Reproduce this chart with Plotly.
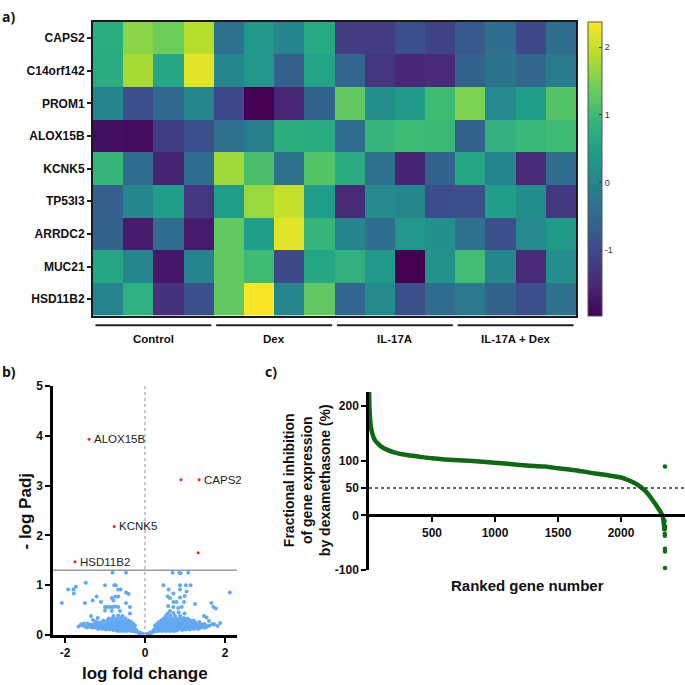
import plotly.graph_objects as go

W = H = 685

# ---------------- Panel a: heatmap data ----------------
genes = ["CAPS2", "C14orf142", "PROM1", "ALOX15B", "KCNK5", "TP53I3", "ARRDC2", "MUC21", "HSD11B2"]
groups = ["Control", "Dex", "IL-17A", "IL-17A + Dex"]
z_caps2 = [0.73, 1.6, 1.4, 1.9, -0.35, 0.33, 0.0, 0.64, -1.2, -1.2, -0.9, -1.1, -0.75, -0.4, -1.0, -0.4]
z_c14orf142 = [0.7, 1.8, 0.6, 2.2, 0.05, 0.3, -0.65, 0.55, -0.55, -1.3, -1.5, -1.45, -0.6, -0.3, -0.55, -0.15]
z_prom1 = [0.0, -0.9, -0.5, 0.05, -1.0, -1.97, -1.5, -0.6, 1.3, 0.2, 0.4, 1.0, 1.5, 0.1, 0.45, 1.2]
z_alox15b = [-1.8, -1.85, -1.15, -0.9, -0.35, -0.1, 0.75, 0.7, -0.45, 0.9, 1.0, 0.97, -0.6, 0.8, 0.95, 1.0]
z_kcnk5 = [0.9, -0.45, -1.55, -0.4, 1.75, 1.1, -0.35, 1.2, 0.7, -0.35, -1.55, -0.6, 0.6, 0.0, -1.45, -0.45]
z_tp53i3 = [-0.65, 0.05, 0.45, -1.3, 0.45, 1.7, 2.0, 0.45, -1.45, 0.1, 0.05, -0.95, -0.9, 0.45, 0.15, -1.25]
z_arrdc2 = [-0.6, -1.65, -0.45, -1.65, 1.3, 0.45, 2.2, 0.9, 0.0, -0.4, 0.3, 0.2, -0.35, -0.9, 0.1, 0.4]
z_muc21 = [0.6, 0.05, -1.7, 0.0, 1.3, 1.0, -1.0, 0.6, 0.8, 0.4, -1.97, 0.25, 1.05, 0.05, -1.45, 0.2]
z_hsd11b2 = [0.0, 0.78, -1.35, -0.9, 1.3, 2.35, 0.03, 1.3, -0.55, 0.12, -0.9, -0.45, -0.2, -0.6, -0.9, -0.35]
samples = list(range(16))
colorbar_ticks = [-1, 0, 1, 2]

# ---------------- Panel b: volcano data ----------------
sig_x = [-1.40, 1.35, 0.90, -0.77, -1.75, 1.33]
sig_y = [3.93, 3.12, 3.12, 2.18, 1.47, 1.65]
sig_labels = ["ALOX15B", "CAPS2", "", "KCNK5", "HSD11B2", ""]
out_x = [-0.81, -0.475, -1.48, -1.92, -1.79, -1.73, -1.78, -2.08, -1.50, -1.00, -0.77, -0.73, -0.67, -0.61,
         -0.475, -0.41, -0.83, -0.74, -0.67, -0.79, -1.21, -1.31, -1.10, -1.00, -0.94, -0.875, -0.81, -0.74,
         -0.67, -0.475, -0.375, -1.00, -0.83, -0.625, -0.375,
         0.69, 0.86, 0.89, 1.08, 0.46, 0.875, 1.02, 1.14, 0.59, 0.875, 1.04, 0.71, 0.99, 2.12, 0.57, 0.625,
         0.875, 0.71, 0.79, 0.975, 1.25, 1.66, 1.71, 1.77, 0.58, 0.71, 0.83, 0.92, 0.625, 0.99, 1.475, 1.69, 1.54]
out_y = [1.25, 1.25, 1.05, 0.91, 0.91, 0.97, 0.83, 0.64, 0.64, 1.00, 1.00, 1.00, 0.91, 0.91,
         0.85, 0.82, 0.74, 0.77, 0.77, 0.69, 0.77, 0.69, 0.66, 0.56, 0.56, 0.56, 0.56, 0.57,
         0.56, 0.64, 0.56, 0.49, 0.48, 0.48, 0.43,
         1.25, 1.25, 1.24, 1.25, 1.00, 1.00, 1.00, 1.00, 0.91, 0.91, 0.87, 0.83, 0.78, 0.85, 0.77, 0.74,
         0.75, 0.66, 0.66, 0.66, 0.62, 0.64, 0.56, 0.53, 0.58, 0.56, 0.54, 0.56, 0.48, 0.43, 0.38, 0.22, 0.35]
cloud_left_x = [-0.03, -0.06, -0.09, -0.12, -0.15, -0.18, -0.21, -0.05, -0.1, -0.14,
                -0.24, -0.29, -0.33, -0.38, -0.43, -0.47, -0.52, -0.56, -0.61, -0.66, -0.71,
                -0.27, -0.36, -0.45, -0.53, -0.62, -0.71, -0.8, -0.89, -0.98, -1.07, -1.17,
                -0.33, -0.42, -0.51, -0.6, -0.69, -0.78, -0.87, -0.96, -1.05, -1.14, -1.24, -1.33,
                -0.28, -0.37, -0.46, -0.55, -0.64, -0.73, -0.82, -0.91, -1.0, -1.09, -1.19, -1.29, -1.39, -1.5,
                -0.25, -0.33, -0.42, -0.51, -0.6, -0.69, -0.78, -0.87, -0.97, -1.06, -1.16, -1.27, -1.42, -1.57,
                -0.29, -0.38, -0.48, -0.57, -0.66, -0.76, -0.86, -0.95, -1.05, -1.15, -1.27, -1.44,
                -0.34, -0.45, -0.55, -0.65, -0.75, -0.85, -0.96, -1.12, -1.22,
                -0.41, -0.52, -0.62, -0.72, -0.83, -0.93, -1.04, -1.3,
                -0.49, -0.6, -0.7, -0.8, -0.9, -1.18,
                -0.56, -0.67, -0.79, -1.35, -1.6, -1.66, -1.53, -0.44, -0.58,
                -0.31, -0.4, -0.49, -0.58, -0.67, -0.75, -0.84, -0.93, -1.02, -1.11, -1.21, -1.31, -1.45,
                -0.35, -0.44, -0.53, -0.62, -0.71, -0.8, -0.91, -1.0, -1.1, -1.2, -1.35, -0.22, -0.26]
cloud_left_y = [0.01, 0.02, 0.03, 0.04, 0.05, 0.06, 0.07, 0.0, 0.01, 0.02,
                0.07, 0.08, 0.08, 0.09, 0.09, 0.08, 0.09, 0.08, 0.09, 0.08, 0.09,
                0.11, 0.11, 0.1, 0.11, 0.1, 0.11, 0.1, 0.11, 0.11, 0.12, 0.12,
                0.13, 0.14, 0.13, 0.14, 0.13, 0.14, 0.13, 0.14, 0.14, 0.14, 0.15, 0.15,
                0.16, 0.17, 0.16, 0.17, 0.16, 0.17, 0.16, 0.17, 0.17, 0.16, 0.17, 0.16, 0.17, 0.17,
                0.19, 0.2, 0.19, 0.2, 0.19, 0.2, 0.19, 0.2, 0.2, 0.19, 0.2, 0.19, 0.2, 0.19,
                0.22, 0.23, 0.22, 0.23, 0.22, 0.23, 0.22, 0.23, 0.22, 0.23, 0.22, 0.23,
                0.26, 0.25, 0.26, 0.25, 0.26, 0.25, 0.26, 0.25, 0.27,
                0.29, 0.3, 0.29, 0.3, 0.29, 0.3, 0.29, 0.3,
                0.33, 0.34, 0.33, 0.34, 0.33, 0.34,
                0.38, 0.39, 0.38, 0.38, 0.21, 0.17, 0.23, 0.28, 0.36,
                0.15, 0.15, 0.18, 0.15, 0.18, 0.15, 0.18, 0.15, 0.18, 0.15, 0.18, 0.18, 0.15,
                0.21, 0.21, 0.24, 0.21, 0.24, 0.21, 0.24, 0.21, 0.24, 0.21, 0.21, 0.1, 0.13]
cloud_right_x = [0.03, 0.06, 0.09, 0.12, 0.15, 0.18, 0.21, 0.05, 0.1, 0.14,
                 0.24, 0.29, 0.33, 0.38, 0.43, 0.48, 0.53, 0.58, 0.63, 0.68, 0.73, 0.79,
                 0.28, 0.37, 0.46, 0.55, 0.65, 0.74, 0.83, 0.93, 1.02, 1.12, 1.22, 1.33,
                 0.33, 0.42, 0.52, 0.61, 0.71, 0.8, 0.9, 0.99, 1.09, 1.19, 1.28, 1.38, 1.48,
                 0.29, 0.38, 0.47, 0.57, 0.66, 0.76, 0.85, 0.95, 1.04, 1.14, 1.23, 1.33, 1.43, 1.53,
                 0.25, 0.34, 0.44, 0.53, 0.63, 0.72, 0.82, 0.91, 1.01, 1.1, 1.2, 1.3, 1.4, 1.5, 1.62,
                 0.3, 0.4, 0.49, 0.59, 0.68, 0.78, 0.88, 0.97, 1.07, 1.17, 1.27, 1.38, 1.49, 1.74,
                 0.35, 0.45, 0.55, 0.65, 0.75, 0.85, 0.95, 1.05, 1.15, 1.25, 1.36,
                 0.41, 0.51, 0.61, 0.71, 0.81, 0.91, 1.01, 1.12, 1.22,
                 0.47, 0.57, 0.67, 0.77, 0.87, 0.97, 1.06,
                 0.52, 0.63, 0.75, 0.88, 0.57, 0.71, 0.84, 1.6, 1.82, 1.88,
                 0.33, 0.43, 0.52, 0.62, 0.71, 0.81, 0.9, 1.0, 1.09, 1.19, 1.29, 1.39, 1.49, 1.58,
                 0.36, 0.46, 0.56, 0.66, 0.76, 0.86, 0.96, 1.06, 1.16, 1.27, 1.42, 0.22, 0.26]
cloud_right_y = [0.01, 0.02, 0.03, 0.04, 0.05, 0.06, 0.07, 0.0, 0.01, 0.02,
                 0.07, 0.08, 0.08, 0.09, 0.08, 0.09, 0.08, 0.09, 0.08, 0.09, 0.08, 0.09,
                 0.11, 0.1, 0.11, 0.1, 0.11, 0.1, 0.11, 0.1, 0.11, 0.11, 0.12, 0.12,
                 0.13, 0.14, 0.13, 0.14, 0.13, 0.14, 0.13, 0.14, 0.13, 0.14, 0.14, 0.14, 0.15,
                 0.16, 0.17, 0.16, 0.17, 0.16, 0.17, 0.16, 0.17, 0.16, 0.17, 0.16, 0.17, 0.17, 0.16,
                 0.19, 0.2, 0.19, 0.2, 0.19, 0.2, 0.19, 0.2, 0.19, 0.2, 0.19, 0.2, 0.19, 0.2, 0.19,
                 0.22, 0.23, 0.22, 0.23, 0.22, 0.23, 0.22, 0.23, 0.22, 0.23, 0.22, 0.23, 0.22, 0.21,
                 0.26, 0.25, 0.26, 0.25, 0.26, 0.25, 0.26, 0.25, 0.26, 0.25, 0.26,
                 0.29, 0.3, 0.29, 0.3, 0.29, 0.3, 0.29, 0.3, 0.29,
                 0.33, 0.34, 0.33, 0.34, 0.33, 0.34, 0.33,
                 0.38, 0.39, 0.38, 0.38, 0.43, 0.44, 0.45, 0.28, 0.18, 0.24,
                 0.15, 0.18, 0.15, 0.18, 0.15, 0.18, 0.15, 0.18, 0.15, 0.18, 0.15, 0.18, 0.15, 0.18,
                 0.21, 0.24, 0.21, 0.24, 0.21, 0.24, 0.21, 0.24, 0.21, 0.24, 0.21, 0.1, 0.13]

# ---------------- Panel c: ranked inhibition data ----------------
rank_curve = [1, 3, 6, 10, 20, 35, 50, 75, 100, 150, 200, 300, 400, 500, 600, 750, 900, 1000, 1100,
              1250, 1400, 1500, 1650, 1750, 1900, 2000, 2050, 2100, 2150, 2200, 2250, 2290, 2320,
              2332, 2340, 2345]
inhib_curve = [225, 200, 185, 172, 155, 143, 136, 130, 125, 119, 115, 110, 107, 104, 102, 100, 98, 96, 94,
               91, 89, 86, 82, 78, 73, 69, 65, 60, 53, 43, 28, 15, 4, -2, -15, -28]
rank_tail = [2349, 2347, 2348, 2349, 2349, 2349, 2350, 2346, 2347]
inhib_tail = [89, -33, -37, -61, -66, -96, -20, -10, -25]

fig = go.Figure()

# ---- heatmap ----
z = [z_caps2, z_c14orf142, z_prom1, z_alox15b, z_kcnk5, z_tp53i3, z_arrdc2, z_muc21, z_hsd11b2]
fig.add_trace(go.Heatmap(
    z=z, x=samples, y=genes, colorscale="Viridis", zmin=-1.97, zmax=2.38,
    xaxis="x", yaxis="y", xgap=0, ygap=0,
    colorbar=dict(x=588 / W, xanchor="left", y=1 - 165 / H, yanchor="middle",
                  len=300 / H, lenmode="fraction", thickness=14, thicknessmode="pixels",
                  outlinewidth=1, outlinecolor="#555", xpad=0, ypad=0,
                  tickvals=colorbar_ticks, ticktext=["-1", "0", "1", "2"],
                  ticks="inside", ticklen=3, tickcolor="#333",
                  tickfont=dict(family="Liberation Sans", size=9, color="#333")),
))

# ---- volcano ----
fig.add_trace(go.Scatter(x=cloud_left_x + cloud_right_x + out_x, y=cloud_left_y + cloud_right_y + out_y,
                         mode="markers", xaxis="x2", yaxis="y2", cliponaxis=False,
                         marker=dict(color="#62a8f2", size=4, line=dict(width=0))))
fig.add_trace(go.Scatter(x=sig_x, y=sig_y, mode="markers", xaxis="x2", yaxis="y2",
                         marker=dict(color="#e8262a", size=3, line=dict(width=0))))

# ---- ranked curve ----
fig.add_trace(go.Scatter(x=rank_curve, y=inhib_curve, mode="lines", xaxis="x3", yaxis="y3",
                         line=dict(color="#0e6a12", width=4.5, shape="spline", smoothing=0.6),
                         cliponaxis=False))
fig.add_trace(go.Scatter(x=rank_tail, y=inhib_tail, mode="markers", xaxis="x3", yaxis="y3",
                         marker=dict(color="#0e6a12", size=4.5), cliponaxis=False))

bold_tick = dict(family="Liberation Sans", size=12, color="#111", weight="bold")

fig.update_layout(
    width=W, height=H, margin=dict(l=0, r=0, t=0, b=0),
    paper_bgcolor="white", plot_bgcolor="white", showlegend=False, hovermode=False,
    xaxis=dict(domain=[93 / W, 576 / W], range=[-0.5, 15.5], anchor="y",
               showticklabels=False, ticks="", showgrid=False, zeroline=False,
               showline=True, mirror=True, linecolor="#1a1a1a", linewidth=2),
    yaxis=dict(domain=[1 - 315 / H, 1 - 15 / H], anchor="x", autorange="reversed",
               ticks="outside", ticklen=4, tickwidth=1.5, tickcolor="#222",
               tickfont=bold_tick, showgrid=False, zeroline=False,
               showline=True, mirror=True, linecolor="#1a1a1a", linewidth=2),
    xaxis2=dict(domain=[53 / W, 237 / W], range=[-2.3, 2.3], anchor="y2",
                tickvals=[-2, 0, 2], ticktext=["-2", "0", "2"], ticks="outside", ticklen=5, tickwidth=2,
                tickcolor="black", tickfont=bold_tick, showgrid=False, zeroline=False,
                showline=True, linecolor="black", linewidth=2.5),
    yaxis2=dict(domain=[1 - 641 / H, 1 - 387 / H], range=[0, 5], anchor="x2",
                tickvals=[0, 1, 2, 3, 4, 5], ticks="outside", ticklen=5, tickwidth=2, tickcolor="black",
                tickfont=bold_tick, showgrid=False, zeroline=False,
                showline=True, linecolor="black", linewidth=2.5),
    xaxis3=dict(domain=[369 / W, 1.0], range=[0, 2508], anchor="free", position=1 - 519 / H,
                tickvals=[500, 1000, 1500, 2000], ticks="outside", ticklen=5, tickwidth=2,
                tickcolor="black", tickfont=bold_tick, showgrid=False, zeroline=False,
                showline=True, linecolor="black", linewidth=2.5),
    yaxis3=dict(domain=[1 - 575 / H, 1 - 393 / H], range=[-100, 225], anchor="x3",
                tickvals=[-100, 0, 50, 100, 200], ticktext=["-100", "0", "50", "100", "200"],
                ticks="outside", ticklen=5, tickwidth=2,
                tickcolor="black", tickfont=bold_tick, showgrid=False, zeroline=False,
                showline=True, linecolor="black", linewidth=2.5),
)

shapes = []
# group bars below heatmap
for g in range(4):
    shapes.append(dict(type="line", xref="x", yref="paper", x0=g * 4 - 0.42, x1=g * 4 + 3.42,
                       y0=1 - 325 / H, y1=1 - 325 / H, line=dict(color="#222", width=2)))
# volcano reference lines
shapes.append(dict(type="line", xref="x2", yref="y2", x0=-2.3, x1=2.3, y0=1.3, y1=1.3,
                   line=dict(color="#9a9a9a", width=1.5)))
shapes.append(dict(type="line", xref="x2", yref="y2", x0=0, x1=0, y0=0, y1=5,
                   line=dict(color="#b5b5b5", width=1.5, dash="dot")))
# 50% threshold
shapes.append(dict(type="line", xref="x3", yref="y3", x0=0, x1=2508, y0=50, y1=50,
                   line=dict(color="#333", width=1.5, dash="dot")))
fig.update_layout(shapes=shapes)

ann = []
title_font = dict(family="Liberation Sans", size=17, color="#111", weight="bold")
for g, name in enumerate(groups):
    ann.append(dict(x=g * 4 + 1.5, y=1 - 339 / H, xref="x", yref="paper", text=name, showarrow=False,
                    font=dict(family="Liberation Sans", size=11.5, color="#111", weight="bold"),
                    xanchor="center", yanchor="middle"))
for px, py, t in [(0, 10, "a)"), (0, 372, "b)"), (263, 372, "c)")]:
    ann.append(dict(x=px / W, y=1 - py / H, xref="paper", yref="paper", text=t, showarrow=False,
                    font=dict(family="Open Sans", size=14, color="#111", weight="bold"),
                    xanchor="left", yanchor="middle"))
for xv, yv, lab in zip(sig_x, sig_y, sig_labels):
    if lab:
        ann.append(dict(x=xv, y=yv, xref="x2", yref="y2", text=lab, showarrow=False, xshift=3,
                        font=dict(family="Liberation Sans", size=11.5, color="#222"),
                        xanchor="left", yanchor="middle"))
ann.append(dict(x=25 / W, y=1 - 514 / H, xref="paper", yref="paper", text="- log Padj", textangle=-90,
                showarrow=False, font=title_font, xanchor="center", yanchor="middle"))
ann.append(dict(x=145 / W, y=1 - 680 / H, xref="paper", yref="paper", text="log fold change",
                showarrow=False, font=title_font, xanchor="center", yanchor="middle"))
ann.append(dict(x=307 / W, y=1 - 483 / H, xref="paper", yref="paper",
                text="Fractional inhibition<br>of gene expression<br>by dexamethasone (%)", textangle=-90,
                showarrow=False, font=dict(family="Liberation Sans", size=14, color="#111", weight="bold"),
                xanchor="center", yanchor="middle"))
ann.append(dict(x=527 / W, y=1 - 591 / H, xref="paper", yref="paper", text="Ranked gene number",
                showarrow=False, font=dict(family="Liberation Sans", size=15, color="#111", weight="bold"),
                xanchor="center", yanchor="middle"))
fig.update_layout(annotations=ann)

fig.write_html("out.html", config={"displayModeBar": False},
               post_script="document.body.style.margin='0px';document.body.style.overflow='hidden';")
